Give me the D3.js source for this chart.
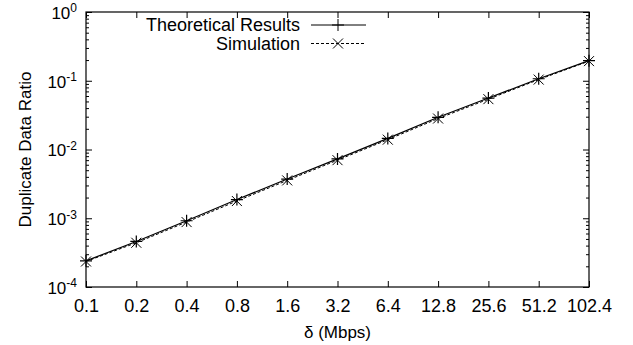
<!DOCTYPE html>
<html>
<head>
<meta charset="utf-8">
<script src="https://cdn.jsdelivr.net/npm/d3@7"></script>
<style>
  body { margin: 0; background: #fff; }
  svg { font-family: "Liberation Sans", Arial, Helvetica, sans-serif; }
  .axis text { font-size: 18px; fill: #000; }
  .axis line { stroke: #000; }
</style>
</head>
<body>
<div id="chart"></div>
<script>
// data
const rates = ['0.1', '0.2', '0.4', '0.8', '1.6', '3.2', '6.4', '12.8', '25.6', '51.2', '102.4'];
const theoretical = [2.4e-4, 4.6e-4, 9.2e-4, 1.87e-3, 3.72e-3, 7.3e-3, 1.45e-2, 2.94e-2, 5.6e-2, 0.107, 0.196];
const simulation = [2.35e-4, 4.4e-4, 8.8e-4, 1.78e-3, 3.55e-3, 7.0e-3, 1.39e-2, 2.82e-2, 5.4e-2, 0.104, 0.193];
const yMajor = [1e-4, 1e-3, 1e-2, 1e-1, 1];
const yExp = ['-4', '-3', '-2', '-1', '0'];

const W = 633, H = 345;
const margin = { top: 12, right: 44, bottom: 58, left: 86 };
const width = W - margin.left - margin.right;
const height = H - margin.top - margin.bottom;

const svg = d3.select('#chart').append('svg')
  .attr('width', W)
  .attr('height', H);

const g = svg.append('g')
  .attr('transform', `translate(${margin.left},${margin.top})`);

const x = d3.scalePoint()
  .domain(rates)
  .range([0, width]);

const y = d3.scaleLog()
  .domain([1e-4, 1])
  .range([height, 0]);

// minor log ticks 2..9 per decade
const yMinor = [];
for (let e = -4; e < 0; e++) {
  for (let m = 2; m <= 9; m++) yMinor.push(m * Math.pow(10, e));
}

// bottom axis with labels
const xAxis = g.append('g')
  .attr('class', 'axis')
  .attr('transform', `translate(0,${height})`)
  .call(d3.axisBottom(x).tickSizeInner(-6).tickSizeOuter(0).tickPadding(12));
xAxis.select('.domain').remove();

// top axis, ticks only
const xTop = g.append('g')
  .attr('class', 'axis')
  .call(d3.axisTop(x).tickSizeInner(-6).tickSizeOuter(0).tickFormat(''));
xTop.select('.domain').remove();

// left axis with 10^n labels
const yAxis = g.append('g')
  .attr('class', 'axis')
  .call(d3.axisLeft(y).tickValues(yMajor).tickSizeInner(-6).tickSizeOuter(0).tickPadding(9).tickFormat(() => ''));
yAxis.select('.domain').remove();
yAxis.selectAll('.tick text')
  .attr('dy', '0.38em')
  .style('font-size', '17px')
  .each(function(d, i) {
    const t = d3.select(this);
    t.append('tspan').text('10');
    t.append('tspan')
      .attr('dy', '-0.55em')
      .style('font-size', '12px')
      .text(yExp[i]);
  });

const yMinorLeft = g.append('g')
  .attr('class', 'axis')
  .call(d3.axisLeft(y).tickValues(yMinor).tickSizeInner(-3).tickSizeOuter(0).tickFormat(''));
yMinorLeft.select('.domain').remove();

// right axis, ticks only
const yRight = g.append('g')
  .attr('class', 'axis')
  .attr('transform', `translate(${width},0)`)
  .call(d3.axisRight(y).tickValues(yMajor).tickSizeInner(-6).tickSizeOuter(0).tickFormat(''));
yRight.select('.domain').remove();

const yMinorRight = g.append('g')
  .attr('class', 'axis')
  .attr('transform', `translate(${width},0)`)
  .call(d3.axisRight(y).tickValues(yMinor).tickSizeInner(-3).tickSizeOuter(0).tickFormat(''));
yMinorRight.select('.domain').remove();

// frame
g.append('rect')
  .attr('x', 0)
  .attr('y', 0)
  .attr('width', width)
  .attr('height', height)
  .attr('fill', 'none')
  .attr('stroke', '#000')
  .attr('stroke-width', 1.2);

// axis titles
svg.append('text')
  .attr('transform', `translate(31,${margin.top + height / 2}) rotate(-90)`)
  .attr('text-anchor', 'middle')
  .style('font-size', '17px')
  .text('Duplicate Data Ratio');

svg.append('text')
  .attr('x', margin.left + width / 2)
  .attr('y', 338)
  .attr('text-anchor', 'middle')
  .style('font-size', '17px')
  .text('δ (Mbps)');

// lines
const line = d3.line()
  .x((d, i) => x(rates[i]))
  .y(d => y(d));

const plusPath = 'M-6,0H6M0,-6V6';
const crossPath = 'M-5,-5L5,5M-5,5L5,-5';

g.append('path')
  .datum(simulation)
  .attr('fill', 'none')
  .attr('stroke', '#000')
  .attr('stroke-width', 1)
  .attr('stroke-dasharray', '3,2')
  .attr('d', line);

g.append('path')
  .datum(theoretical)
  .attr('fill', 'none')
  .attr('stroke', '#000')
  .attr('stroke-width', 1.2)
  .attr('d', line);

g.selectAll('.pt-theo')
  .data(theoretical)
  .enter().append('path')
  .attr('class', 'pt-theo')
  .attr('transform', (d, i) => `translate(${x(rates[i])},${y(d)})`)
  .attr('d', plusPath)
  .attr('stroke', '#000')
  .attr('stroke-width', 1.2);

g.selectAll('.pt-sim')
  .data(simulation)
  .enter().append('path')
  .attr('class', 'pt-sim')
  .attr('transform', (d, i) => `translate(${x(rates[i])},${y(d)})`)
  .attr('d', crossPath)
  .attr('stroke', '#000')
  .attr('stroke-width', 1);

// legend
const legend = svg.append('g');
const legendItems = [
  { label: 'Theoretical Results', dash: null, marker: plusPath, y: 25 },
  { label: 'Simulation', dash: '3,2', marker: crossPath, y: 43.5 }
];
legendItems.forEach(item => {
  legend.append('text')
    .attr('x', 300)
    .attr('y', item.y + 6)
    .attr('text-anchor', 'end')
    .style('font-size', '18px')
    .text(item.label);
  legend.append('line')
    .attr('x1', 311)
    .attr('x2', 366)
    .attr('y1', item.y)
    .attr('y2', item.y)
    .attr('stroke', '#000')
    .attr('stroke-width', 1)
    .attr('stroke-dasharray', item.dash);
  legend.append('path')
    .attr('transform', `translate(338,${item.y})`)
    .attr('d', item.marker)
    .attr('stroke', '#000')
    .attr('stroke-width', 1);
});
</script>
</body>
</html>
